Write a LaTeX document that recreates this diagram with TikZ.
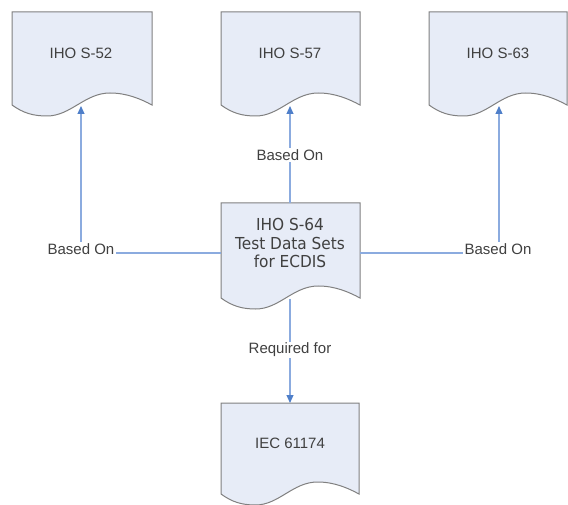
\documentclass[tikz,border=0pt]{standalone}
\usepackage{fontspec}
\setmainfont{Liberation Sans}
\newfontfamily\tahoma[FakeStretch=0.93]{DejaVu Sans}
\usetikzlibrary{arrows.meta}
\definecolor{docfill}{HTML}{E7ECF7}
\definecolor{docline}{HTML}{808080}
\definecolor{conncol}{HTML}{8BABDF}
\definecolor{tipcol}{HTML}{4F7FC9}
\definecolor{txtcol}{HTML}{404040}
% L T R B
\newcommand\mydoc[4]{%
  \pgfmathsetmacro\docw{#3-#1}%
  \path[fill=docfill,draw=docline,line width=1pt]
    (#1,#2) -- (#3,#2) -- (#3,#4)
    .. controls ({#1+0.92*\docw},{#4-6}) and ({#1+0.82*\docw},{#4-12}) .. ({#1+0.7*\docw},{#4-12})
    .. controls ({#1+0.52*\docw},{#4-12}) and ({#1+0.42*\docw},{#4+11}) .. ({#1+0.25*\docw},{#4+11})
    .. controls ({#1+0.15*\docw},{#4+11}) and ({#1+0.08*\docw},{#4+8}) .. (#1,#4) -- cycle;%
}
\tikzset{
  doctext/.style={text=txtcol,font=\fontsize{15}{18}\selectfont,align=center,inner sep=0pt},
  midtext/.style={text=txtcol,font=\tahoma\fontsize{16.5}{18.5}\selectfont,align=center,inner sep=0pt},
  lbl/.style={text=txtcol,font=\fontsize{15}{18}\selectfont,fill=white,inner sep=1.5pt},
  connline/.style={draw=conncol,line width=1.2pt,-{Triangle[length=8pt,width=7pt,color=tipcol]}},
  plainline/.style={draw=conncol,line width=1.2pt}
}
\begin{document}
\begin{tikzpicture}[x=1pt,y=-1pt]
\useasboundingbox (0,0) rectangle (568,505);
% documents
\mydoc{12}{12}{152}{105}
\mydoc{221}{12}{360}{105}
\mydoc{429}{12}{567}{105}
\mydoc{221}{203}{360}{298}
\mydoc{221}{403}{359}{494}
% texts
\node[doctext] (s52) at (81,53) {IHO S-52};
\node[doctext] (s57) at (290,53) {IHO S-57};
\node[doctext] (s63) at (498,53) {IHO S-63};
\node[midtext] (s64) at (290,243) {IHO S-64\\Test Data Sets\\for ECDIS};
\node[doctext] (iec) at (290,443) {IEC 61174};
% attach points
\coordinate (s52b) at (81,106);
\coordinate (s57b) at (290,106);
\coordinate (s63b) at (499,106);
\coordinate (s64l) at (221,253);
\coordinate (s64r) at (360,253);
\coordinate (s64t) at (290,203);
\coordinate (s64b) at (290,299);
\coordinate (iect) at (290,403);
% connectors
\draw[connline] (s64l) -| (s52b);
\draw[connline] (s64r) -| (s63b);
\draw[connline] (s64t) -- (s57b);
\draw[connline] (s64b) -- (iect);
% labels
\node[lbl] (lb1) at (81,249) {Based On};
\node[lbl] (lb2) at (498,249) {Based On};
\node[lbl] (lb3) at (290,155) {Based On};
\node[lbl] (lb4) at (290,350) {Required for};
\end{tikzpicture}
\end{document}
